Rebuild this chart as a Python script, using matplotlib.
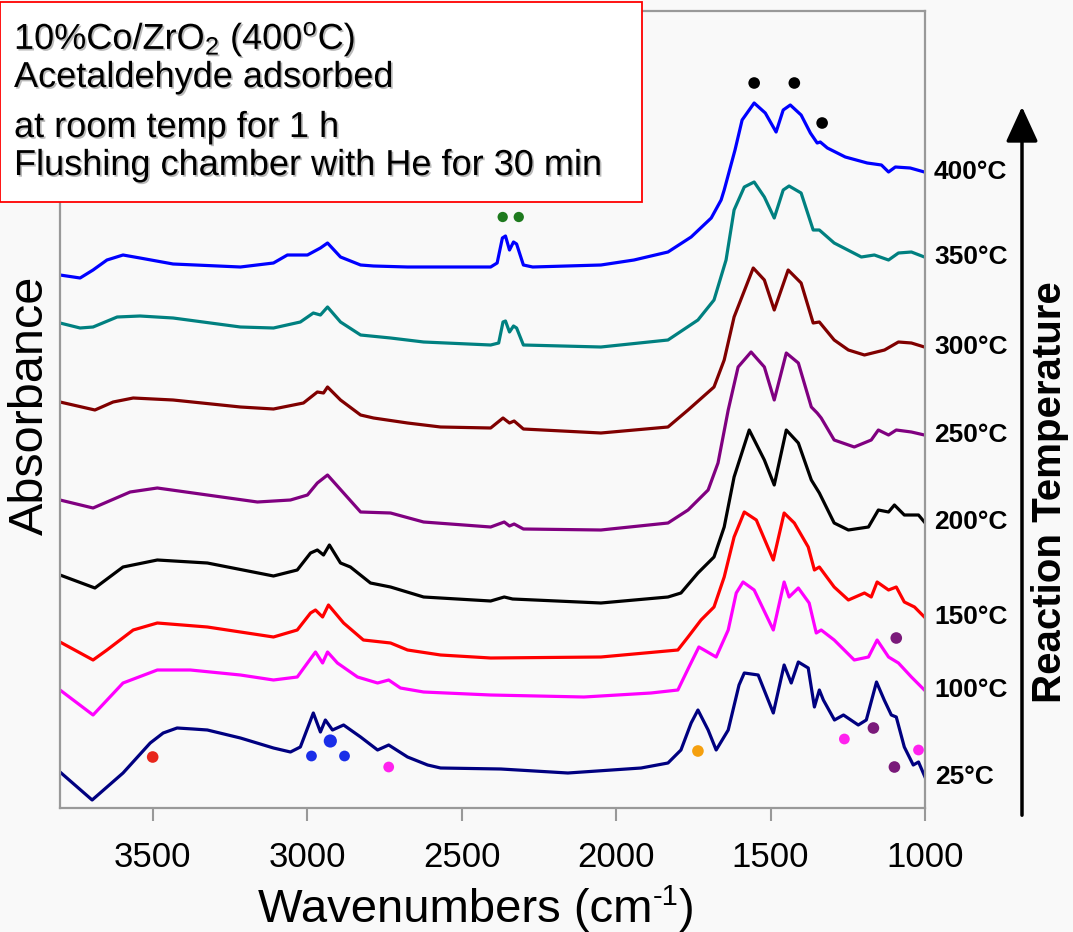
import matplotlib
matplotlib.use("Agg")
import matplotlib.pyplot as plt
import matplotlib.patches as mpatches
import matplotlib.patheffects as pe

plt.rcParams['font.family'] = ['Liberation Sans', 'DejaVu Sans']
plt.rcParams['mathtext.fontset'] = 'custom'
plt.rcParams['mathtext.rm'] = 'Liberation Sans'
plt.rcParams['mathtext.it'] = 'Liberation Sans:italic'
plt.rcParams['mathtext.bf'] = 'Liberation Sans:bold'

# ---- spectra (wavenumber in cm-1, absorbance in a.u., already stacked) ----
wn_25 = [3800, 3696, 3596, 3508, 3466, 3421, 3369, 3323, 3216, 3109, 3054, 3022, 2980, 2957,
         2941, 2918, 2882, 2827, 2772, 2736, 2675, 2610, 2568, 2373, 2156, 1919, 1832, 1790,
         1757, 1735, 1702, 1676, 1637, 1602, 1585, 1540, 1491, 1456, 1433, 1410, 1378, 1358,
         1342, 1329, 1293, 1264, 1216, 1190, 1157, 1132, 1109, 1093, 1067, 1038, 1021, 1000]
ab_25 = [0.36, 0.08, 0.35, 0.65, 0.75, 0.80, 0.79, 0.78, 0.70, 0.60, 0.56, 0.61, 0.95, 0.76,
         0.88, 0.78, 0.83, 0.71, 0.58, 0.63, 0.51, 0.43, 0.40, 0.39, 0.35, 0.40, 0.45, 0.58,
         0.85, 0.98, 0.78, 0.58, 0.78, 1.23, 1.35, 1.33, 0.95, 1.43, 1.25, 1.46, 1.40, 1.01,
         1.18, 1.08, 0.88, 0.93, 0.83, 0.88, 1.26, 1.08, 0.93, 0.91, 0.61, 0.43, 0.46, 0.31]

wn_100 = [3800, 3693, 3596, 3485, 3378, 3216, 3109, 3032, 2999, 2973, 2950, 2934, 2902, 2837,
          2772, 2736, 2698, 2623, 2406, 2104, 1887, 1800, 1764, 1732, 1715, 1676, 1637, 1611,
          1589, 1553, 1491, 1456, 1440, 1410, 1375, 1352, 1336, 1294, 1229, 1183, 1155, 1118,
          1086, 1044, 1002]
ab_100 = [1.18, 0.93, 1.25, 1.38, 1.38, 1.33, 1.28, 1.31, 1.45, 1.56, 1.45, 1.56, 1.45, 1.31,
          1.25, 1.28, 1.20, 1.16, 1.13, 1.11, 1.15, 1.18, 1.41, 1.61, 1.58, 1.51, 1.78, 2.15,
          2.26, 2.18, 1.78, 2.26, 2.11, 2.20, 2.05, 1.75, 1.78, 1.68, 1.48, 1.51, 1.68, 1.51,
          1.45, 1.31, 1.18]

wn_150 = [3800, 3693, 3648, 3563, 3485, 3323, 3109, 3032, 2989, 2973, 2950, 2931, 2882, 2818,
          2730, 2675, 2568, 2406, 2049, 1800, 1767, 1725, 1683, 1650, 1618, 1585, 1546, 1491,
          1456, 1423, 1378, 1358, 1342, 1294, 1248, 1196, 1174, 1155, 1118, 1093, 1067, 1034,
          1002]
ab_150 = [1.66, 1.48, 1.58, 1.78, 1.85, 1.81, 1.71, 1.78, 1.95, 1.98, 1.91, 2.03, 1.85, 1.68,
          1.65, 1.58, 1.53, 1.50, 1.51, 1.58, 1.71, 1.88, 2.01, 2.31, 2.71, 2.96, 2.88, 2.48,
          2.95, 2.85, 2.61, 2.38, 2.41, 2.21, 2.08, 2.15, 2.11, 2.26, 2.18, 2.21, 2.06, 2.01,
          1.91]

wn_200 = [3800, 3687, 3596, 3485, 3323, 3109, 3032, 2989, 2967, 2947, 2928, 2892, 2860, 2795,
          2730, 2623, 2406, 2362, 2335, 2049, 1832, 1790, 1735, 1683, 1650, 1618, 1569, 1520,
          1488, 1449, 1410, 1368, 1342, 1294, 1248, 1183, 1151, 1118, 1099, 1067, 1021, 1002]
ab_200 = [2.33, 2.20, 2.41, 2.48, 2.45, 2.32, 2.38, 2.55, 2.58, 2.53, 2.63, 2.45, 2.41, 2.25,
          2.21, 2.11, 2.07, 2.11, 2.09, 2.05, 2.11, 2.15, 2.35, 2.51, 2.81, 3.31, 3.78, 3.48,
          3.23, 3.78, 3.65, 3.28, 3.15, 2.85, 2.78, 2.81, 2.98, 2.96, 3.03, 2.93, 2.93, 2.86]

wn_250 = [3800, 3693, 3573, 3485, 3323, 3161, 3054, 2999, 2967, 2934, 2882, 2827, 2730, 2623,
          2406, 2362, 2345, 2330, 2300, 2049, 1832, 1767, 1702, 1670, 1637, 1605, 1563, 1520,
          1488, 1449, 1410, 1368, 1349, 1336, 1294, 1229, 1174, 1151, 1118, 1093, 1044, 1002]
ab_250 = [3.08, 3.00, 3.16, 3.20, 3.13, 3.06, 3.08, 3.13, 3.25, 3.33, 3.15, 2.96, 2.95, 2.86,
          2.81, 2.86, 2.82, 2.84, 2.79, 2.78, 2.85, 2.98, 3.18, 3.45, 3.98, 4.41, 4.56, 4.41,
          4.08, 4.55, 4.45, 4.01, 3.95, 3.90, 3.68, 3.61, 3.68, 3.78, 3.73, 3.78, 3.76, 3.73]

wn_300 = [3800, 3687, 3628, 3563, 3434, 3216, 3109, 3012, 2967, 2947, 2934, 2892, 2827, 2785,
          2675, 2568, 2406, 2366, 2345, 2330, 2300, 2049, 1832, 1767, 1683, 1650, 1618, 1556,
          1520, 1488, 1443, 1401, 1362, 1342, 1294, 1248, 1196, 1131, 1086, 1044, 1002]
ab_300 = [4.06, 3.98, 4.06, 4.10, 4.08, 4.01, 3.99, 4.05, 4.16, 4.15, 4.21, 4.08, 3.93, 3.90,
          3.85, 3.81, 3.80, 3.90, 3.85, 3.87, 3.79, 3.75, 3.81, 3.98, 4.21, 4.48, 4.91, 5.40,
          5.28, 4.98, 5.38, 5.25, 4.85, 4.86, 4.68, 4.58, 4.53, 4.58, 4.66, 4.65, 4.61]

wn_350 = [3800, 3735, 3693, 3615, 3541, 3434, 3216, 3109, 3022, 2980, 2957, 2934, 2892, 2827,
          2730, 2623, 2406, 2380, 2366, 2358, 2345, 2332, 2322, 2300, 2049, 1832, 1735, 1683,
          1644, 1618, 1585, 1553, 1520, 1488, 1459, 1440, 1401, 1362, 1342, 1294, 1206, 1164,
          1118, 1086, 1044, 1002]
ab_350 = [4.85, 4.80, 4.81, 4.91, 4.92, 4.90, 4.81, 4.80, 4.86, 4.95, 4.93, 5.01, 4.86, 4.73,
          4.70, 4.66, 4.63, 4.65, 4.86, 4.87, 4.76, 4.82, 4.80, 4.63, 4.61, 4.68, 4.88, 5.08,
          5.48, 5.98, 6.21, 6.26, 6.11, 5.90, 6.18, 6.22, 6.15, 5.78, 5.78, 5.65, 5.51, 5.53,
          5.48, 5.55, 5.56, 5.51]

wn_400 = [3800, 3735, 3693, 3648, 3596, 3541, 3434, 3216, 3109, 3064, 2999, 2957, 2934, 2892,
          2827, 2785, 2675, 2406, 2385, 2368, 2358, 2345, 2332, 2322, 2300, 2270, 2049, 1942,
          1832, 1757, 1692, 1660, 1650, 1615, 1592, 1553, 1517, 1482, 1459, 1436, 1401, 1371,
          1349, 1339, 1316, 1258, 1187, 1141, 1118, 1096, 1048, 1002]
ab_400 = [5.33, 5.30, 5.38, 5.48, 5.53, 5.50, 5.44, 5.41, 5.45, 5.53, 5.53, 5.60, 5.65, 5.51,
          5.43, 5.42, 5.41, 5.41, 5.45, 5.70, 5.72, 5.58, 5.66, 5.64, 5.43, 5.41, 5.43, 5.48,
          5.56, 5.71, 5.90, 6.08, 6.18, 6.58, 6.88, 7.05, 6.95, 6.76, 6.98, 7.03, 6.93, 6.75,
          6.65, 6.66, 6.60, 6.51, 6.45, 6.43, 6.36, 6.41, 6.40, 6.36]

temps = ['25°C', '100°C', '150°C', '200°C', '250°C', '300°C', '350°C', '400°C']
wns = [wn_25, wn_100, wn_150, wn_200, wn_250, wn_300, wn_350, wn_400]
abs_ = [ab_25, ab_100, ab_150, ab_200, ab_250, ab_300, ab_350, ab_400]
colors = ['#000080', '#ff00ff', '#ff0000', '#000000', '#800080', '#800000', '#008080', '#0000ff']

# band assignment markers
dot_wn = [1553, 1423, 1333, 2367, 2315, 3500, 2986, 2925, 2879, 2736, 1261, 1021, 1735,
          1167, 1099, 1093]
dot_ab = [7.25, 7.25, 6.85, 5.91, 5.91, 0.51, 0.52, 0.67, 0.52, 0.41, 0.69, 0.58, 0.57,
          0.80, 0.41, 1.70]
dot_col = ['#000000', '#000000', '#000000', '#1e7a1e', '#1e7a1e', '#e8261c', '#1a2ee8',
           '#1a2ee8', '#1a2ee8', '#ff22ee', '#ff22ee', '#ff22ee', '#f5a00f', '#7a1a7a',
           '#7a1a7a', '#7a1a7a']
dot_size = [70, 70, 70, 55, 55, 70, 60, 90, 60, 60, 60, 60, 70, 70, 70, 70]

W, H = 1073, 932
bg = '#f9f9f9'
fig = plt.figure(figsize=(W / 100, H / 100), dpi=100, facecolor=bg)
ax = fig.add_axes([60 / W, 124 / H, 865 / W, 797 / H], facecolor=bg)

for w, a, c in zip(wns, abs_, colors):
    ax.plot(w, a, color=c, lw=2.3, solid_joinstyle='round')

ax.scatter(dot_wn, dot_ab, s=dot_size, c=dot_col, zorder=4, linewidths=0)

for t, w, a in zip(temps, wns, abs_):
    ax.annotate(t, xy=(w[-1], a[-1]), xytext=(7, 0), textcoords='offset points',
                va='center', ha='left', fontsize=19, fontweight='bold', annotation_clip=False)

ax.set_xlim(3800, 1000)
ax.set_ylim(0, 7.97)
ax.set_xticks([3500, 3000, 2500, 2000, 1500, 1000])
ax.set_yticks([])
ax.tick_params(axis='x', direction='out', length=9, width=1.5, color='#999999',
               labelsize=25, pad=15)
for s in ax.spines.values():
    s.set_color('#999999')
    s.set_linewidth(1.6)

# x label built from pieces so the "-1" sits as a plain raised exponent
renderer = fig.canvas.get_renderer()
yb = 1 - 922 / H
parts = [fig.text(0, yb, 'Wavenumbers (cm', fontsize=34, va='baseline'),
         fig.text(0, yb + 17 / H, '-1', fontsize=21, va='baseline'),
         fig.text(0, yb, ')', fontsize=34, va='baseline')]
widths = [p.get_window_extent(renderer).width for p in parts]
x = 476 - sum(widths) / 2
for p, wd in zip(parts, widths):
    p.set_x(x / W)
    x += wd

fig.text(30 / W, 1 - 405 / H, 'Absorbance', fontsize=35, rotation=90,
         ha='center', va='center')
fig.text(1050 / W, 1 - 492 / H, 'Reaction Temperature', fontsize=29, fontweight='bold',
         rotation=90, ha='center', va='center')

# temperature arrow on the right
fig.add_artist(mpatches.FancyArrowPatch((1022 / W, 1 - 818 / H), (1022 / W, 1 - 104 / H),
                                        transform=fig.transFigure, arrowstyle='-|>,head_length=1.2,head_width=0.55',
                                        mutation_scale=18, color='black', lw=2.5))

# conditions box
box = mpatches.Rectangle((0, 1 - 202 / H), 642 / W, 200 / H, transform=fig.transFigure,
                         facecolor='white', edgecolor='#ff0000', lw=1.3, zorder=5)
fig.add_artist(box)
shadow = [pe.SimplePatchShadow(offset=(1.2, -1.2), shadow_rgbFace='0.55', alpha=0.6), pe.Normal()]
lines = ['10%Co/ZrO$_\\mathregular{2}$ (400$^\\mathregular{o}$C)', 'Acetaldehyde adsorbed',
         'at room temp for 1 h', 'Flushing chamber with He for 30 min']
baselines = [49, 87, 137, 175]
for txt, yl in zip(lines, baselines):
    fig.text(14 / W, 1 - yl / H, txt, fontsize=26, ha='left', va='baseline', zorder=6,
             path_effects=shadow)

fig.savefig('out.png', dpi=100, facecolor=bg)
